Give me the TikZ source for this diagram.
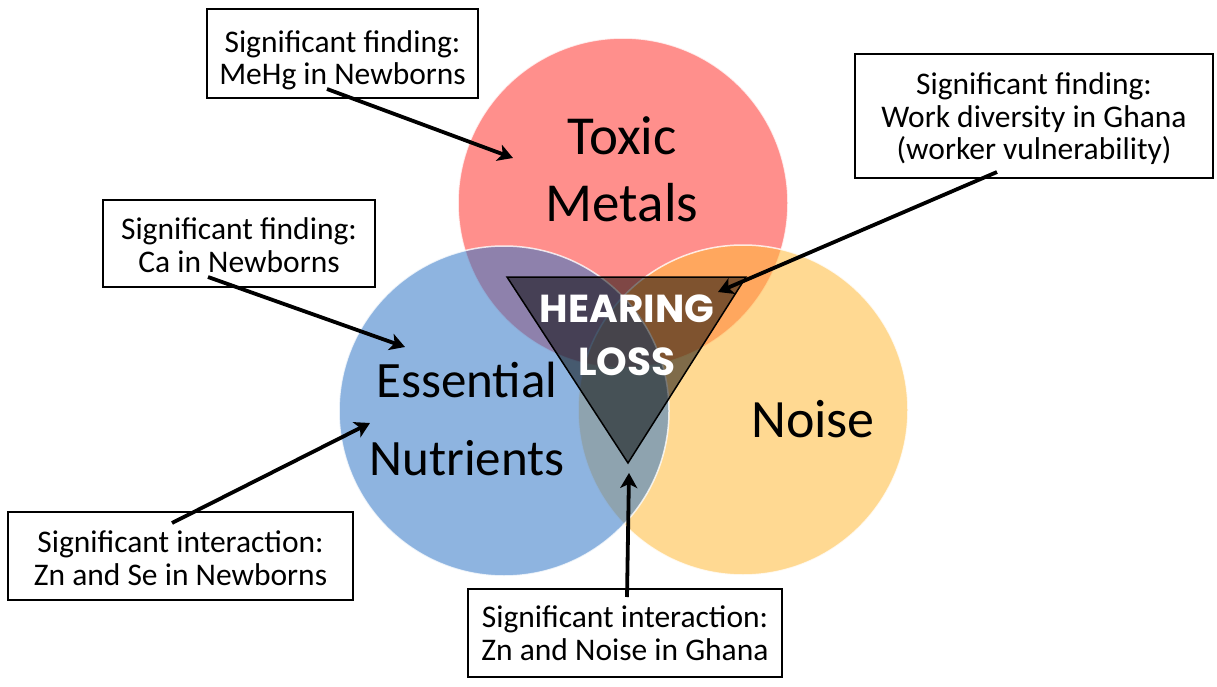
\documentclass[tikz,border=0pt]{standalone}
\usepackage{fontspec}
\setmainfont{Carlito}
\newfontfamily\popfont{Poppins}
\usetikzlibrary{arrows.meta}
\definecolor{cred}{RGB}{255,51,46}
\definecolor{cblue}{RGB}{50,119,199}
\definecolor{cyel}{RGB}{255,186,57}
\tikzset{
 venn/.style={circle, minimum size=330pt, inner sep=0pt, draw=white, line width=1.5pt, fill opacity=0.55, draw opacity=0.8},
 box/.style={draw=black, line width=1.5pt, fill=white, inner sep=0pt},
 boxtext/.style={align=center, font=\fontsize{31.5}{32.5}\selectfont, anchor=base, inner sep=0pt},
 biglabel/.style={align=center, anchor=base, inner sep=0pt},
 arr/.style={line width=3.8pt, -{Stealth[length=15pt,width=17pt,inset=4pt]}},
 tri/.style={line width=1.5pt, draw=black, fill=black, fill opacity=0.5},
}
\begin{document}
\begin{tikzpicture}[x=1pt,y=1pt]
\useasboundingbox (0,0) rectangle (1217,-687);
% circles
\node[venn, fill=cred] (red) at (623,-203) {};
\node[venn, fill=cyel] (yel) at (743,-410) {};
\node[venn, fill=cblue] (blue) at (504,-411) {};
% triangle
\coordinate (tA) at (507,-277);
\coordinate (tB) at (746,-277);
\coordinate (tC) at (628,-463);
\draw[tri] (tA) -- (tB) -- (tC) -- cycle;
% circle labels
\node[biglabel, font=\fontsize{55}{67}\selectfont] (lt) at (622,-222) {Toxic\\Metals};
\node[biglabel, font=\fontsize{51}{78}\selectfont] (le) at (467,-475) {Essential\\Nutrients};
\node[biglabel, font=\fontsize{54}{64}\selectfont] (ln) at (813,-437) {Noise};
\node[biglabel, text=white, font=\popfont\bfseries\fontsize{39}{53}\selectfont] (hl) at (627,-375) {HEARING\\LOSS};
% boxes
\node[box, minimum width=271pt, minimum height=89pt] (b1) at (342.5,-53.5) {};
\node[boxtext] (t1) at (342.5,-85) {Significant finding:\\MeHg in Newborns};
\node[box, minimum width=358pt, minimum height=124pt] (b2) at (1034,-116) {};
\node[boxtext] (t2) at (1034,-160) {Significant finding:\\Work diversity in Ghana\\(worker vulnerability)};
\node[box, minimum width=272pt, minimum height=87pt] (b3) at (239,-243.5) {};
\node[boxtext] (t3) at (239,-272) {Significant finding:\\Ca in Newborns};
\node[box, minimum width=345pt, minimum height=88pt] (b4) at (180.5,-556) {};
\node[boxtext] (t4) at (180.5,-585) {Significant interaction:\\Zn and Se in Newborns};
\node[box, minimum width=314pt, minimum height=88pt] (b5) at (625,-633) {};
\node[boxtext] (t5) at (625,-660) {Significant interaction:\\Zn and Noise in Ghana};
% arrows
\coordinate (s1) at (327,-89);  \coordinate (e1) at (513,-158);
\coordinate (s2) at (997,-172); \coordinate (e2) at (718,-292);
\coordinate (s3) at (208,-277); \coordinate (e3) at (405,-347);
\coordinate (s4) at (172,-523); \coordinate (e4) at (370,-423);
\coordinate (s5) at (627,-597); \coordinate (e5) at (629,-473);
\draw[arr] (s1) -- (e1);
\draw[arr] (s2) -- (e2);
\draw[arr] (s3) -- (e3);
\draw[arr] (s4) -- (e4);
\draw[arr] (s5) -- (e5);
\end{tikzpicture}
\end{document}
